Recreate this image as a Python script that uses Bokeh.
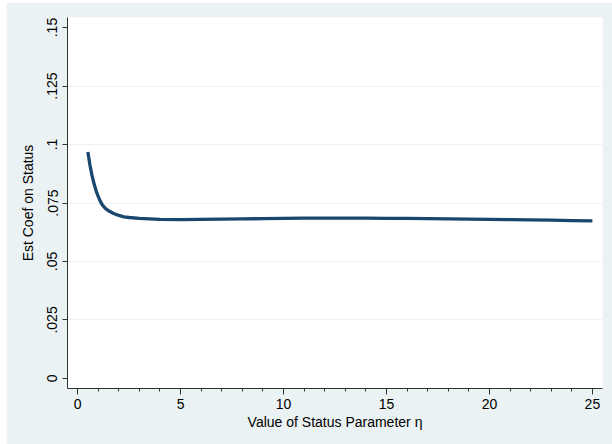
from bokeh.plotting import figure
from bokeh.models import FixedTicker, ColumnDataSource
from bokeh.embed import file_html
from bokeh.resources import INLINE

# Data
eta = [0.5, 0.6, 0.7, 0.8, 0.9, 1.0, 1.1, 1.2, 1.35, 1.5, 1.75, 2.0, 2.25, 2.5,
       3.0, 3.5, 4.0, 5, 6, 7, 8, 9, 10, 11, 12, 13, 14, 15, 16, 17, 18, 19,
       20, 21, 22, 23, 24, 25]
coef = [0.0968, 0.0912, 0.0868, 0.0832, 0.0802, 0.0778, 0.0758, 0.0742, 0.0727,
        0.0717, 0.0705, 0.0697, 0.0691, 0.0688, 0.0684, 0.0682, 0.0680, 0.0679,
        0.0680, 0.0681, 0.0682, 0.0683, 0.0684, 0.0685, 0.0685, 0.0685, 0.0685,
        0.0684, 0.0684, 0.0683, 0.0682, 0.0681, 0.0680, 0.0679, 0.0678, 0.0677,
        0.0675, 0.0674]

x_ticks = [0, 5, 10, 15, 20, 25]
x_minor = list(range(0, 26))
y_ticks = [0, 0.025, 0.05, 0.075, 0.1, 0.125, 0.15]
y_labels = ["0", ".025", ".05", ".075", ".1", ".125", ".15"]
grid_ticks = [0.025, 0.05, 0.075, 0.1, 0.125]

BG = "#EAF2F3"
LINE = "#1A476F"
FONT = "Liberation Sans"

p = figure(width=606, height=442, output_backend="svg", toolbar_location=None,
           x_range=(-0.49, 25.49), y_range=(-0.0043, 0.1543),
           min_border_left=61, min_border_right=10, min_border_top=15,
           min_border_bottom=56)
p.margin = (2, 0, 0, 6)
p.background_fill_color = "white"
p.border_fill_color = BG
p.outline_line_color = None

src = ColumnDataSource(dict(x=eta, y=coef))
p.line("x", "y", source=src, line_color=LINE, line_width=3.3,
       line_join="round", line_cap="butt")

# x axis
p.xaxis.ticker = FixedTicker(ticks=x_ticks, minor_ticks=x_minor)
p.xaxis.axis_label = "Value of Status Parameter η"
p.xaxis.major_tick_out = 6
p.xaxis.major_tick_in = 0
p.xaxis.minor_tick_out = 3
p.xaxis.minor_tick_in = 0
p.xaxis.major_label_standoff = 4
p.xaxis.axis_label_standoff = 2

# y axis
p.yaxis.ticker = FixedTicker(ticks=y_ticks)
p.yaxis.major_label_overrides = {t: l for t, l in zip(y_ticks, y_labels)}
p.yaxis.major_label_orientation = "vertical"
p.yaxis.axis_label = "Est Coef on Status"
p.yaxis.major_tick_out = 5
p.yaxis.major_tick_in = 0
p.yaxis.major_label_standoff = 5
p.yaxis.axis_label_standoff = 9

for ax in (p.xaxis, p.yaxis):
    ax.axis_line_color = "#333333"
    ax.axis_line_width = 1
    ax.major_tick_line_color = "#333333"
    ax.major_label_text_font = FONT
    ax.major_label_text_font_size = "14px"
    ax.major_label_text_color = "black"
    ax.axis_label_text_font = FONT
    ax.axis_label_text_font_size = "14px"
    ax.axis_label_text_font_style = "normal"
    ax.axis_label_text_color = "black"

p.xaxis.minor_tick_line_color = "#333333"
p.yaxis.minor_tick_line_color = None

p.xgrid.grid_line_color = None
p.ygrid.ticker = FixedTicker(ticks=grid_ticks)
p.ygrid.grid_line_color = BG
p.ygrid.grid_line_width = 1

open("out.html", "w").write(file_html(p, INLINE))
